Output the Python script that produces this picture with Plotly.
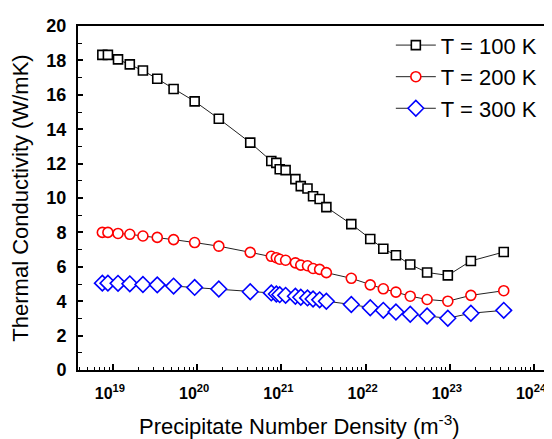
import plotly.graph_objects as go

# log10 of precipitate number density (m^-3)
log_density = [18.874, 18.94, 19.06, 19.20, 19.356, 19.526, 19.72, 19.97, 20.257, 20.63,
               20.88, 20.94, 20.98, 21.05, 21.166, 21.23, 21.31, 21.376, 21.454, 21.534,
               21.83, 22.055, 22.21, 22.36, 22.53, 22.73, 22.976, 23.25, 23.64]
density = [10.0 ** v for v in log_density]

k_100 = [18.32, 18.32, 18.06, 17.77, 17.41, 16.93, 16.34, 15.62, 14.61, 13.22,
         12.15, 12.04, 11.67, 11.62, 11.10, 10.69, 10.55, 10.10, 9.94, 9.47,
         8.48, 7.62, 7.05, 6.67, 6.13, 5.67, 5.50, 6.34, 6.86]
k_200 = [8.00, 8.00, 7.94, 7.89, 7.79, 7.71, 7.58, 7.41, 7.20, 6.84,
         6.61, 6.53, 6.44, 6.38, 6.23, 6.10, 6.06, 5.90, 5.85, 5.66,
         5.33, 4.95, 4.72, 4.53, 4.29, 4.10, 4.00, 4.34, 4.61]
k_300 = [5.05, 5.05, 5.04, 5.01, 4.97, 4.95, 4.88, 4.80, 4.71, 4.55,
         4.48, 4.42, 4.38, 4.34, 4.29, 4.23, 4.19, 4.13, 4.08, 4.00,
         3.81, 3.62, 3.47, 3.37, 3.24, 3.14, 3.01, 3.30, 3.47]

series_names = ["T = 100 K", "T = 200 K", "T = 300 K"]
x_tick_exps = [19, 20, 21, 22, 23, 24]
y_tick_vals = [0, 2, 4, 6, 8, 10, 12, 14, 16, 18, 20]
x_title = "Precipitate Number Density (m<sup>-3</sup>)"
y_title = "Thermal Conductivity (W/mK)"

styles = [("square", "#000000", 9), ("circle", "#ff0000", 10), ("diamond", "#0000ff", 12)]

fig = go.Figure()
for name, ys, (sym, col, sz) in zip(series_names, [k_100, k_200, k_300], styles):
    fig.add_trace(go.Scatter(
        x=density, y=ys, name=name, mode="lines+markers",
        line=dict(color="#222222", width=1),
        marker=dict(symbol=sym, size=sz, color="white",
                    line=dict(color=col, width=1.6)),
    ))

FONT = "Liberation Sans, Arial, sans-serif"
title_font = dict(family=FONT, size=22, color="black")

fig.update_layout(
    width=552, height=439,
    margin=dict(l=70, r=8, t=12, b=77),
    paper_bgcolor="white", plot_bgcolor="white",
    showlegend=True,
    legend=dict(x=0.66, y=1.005, xanchor="left", yanchor="top",
                bgcolor="rgba(0,0,0,0)", borderwidth=0,
                font=dict(family=FONT, size=22, color="black"),
                tracegroupgap=0, itemwidth=40),
)

fig.add_annotation(
    text=x_title, xref="paper", yref="paper", x=0.468, y=0,
    xanchor="center", yanchor="middle", yshift=-55, showarrow=False,
    font=title_font,
)

fig.update_xaxes(
    type="log", range=[18.585, 24.213],
    tickvals=[10.0 ** e for e in x_tick_exps],
    ticktext=["<b>10<sup>%d</sup></b>" % e for e in x_tick_exps],
    ticks="inside", ticklen=6, tickwidth=1.5, tickcolor="black",
    minor=dict(ticks="inside", ticklen=3, tickwidth=1.2, tickcolor="black",
               showgrid=False, dtick="D1"),
    showline=True, linecolor="black", linewidth=2, mirror=True,
    showgrid=False, zeroline=False,
    tickfont=dict(family=FONT, size=16, color="black"),
    ticklabelstandoff=8, ticklabelshift=-3,
)
fig.update_yaxes(
    range=[0, 20],
    tickvals=y_tick_vals,
    ticktext=["<b>%d</b>" % v for v in y_tick_vals],
    ticks="inside", ticklen=5, tickwidth=1.5, tickcolor="black",
    minor=dict(ticks="inside", ticklen=4, tickwidth=1.2, tickcolor="black",
               showgrid=False, dtick=1),
    showline=True, linecolor="black", linewidth=2, mirror=False,
    showgrid=False, zeroline=False,
    tickfont=dict(family=FONT, size=18, color="black"), ticklabelstandoff=6,
    title=dict(text=y_title, font=title_font, standoff=14),
)

fig.write_html("out.html")
